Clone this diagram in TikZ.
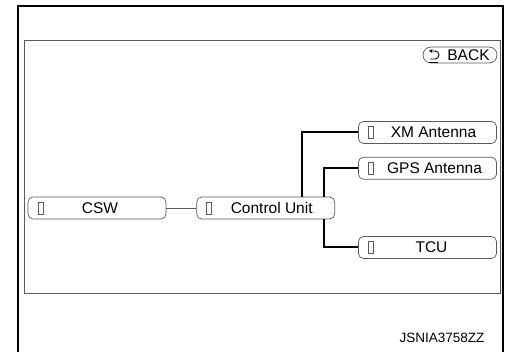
\documentclass[tikz,border=0pt]{standalone}
\usepackage{fontspec}
\setmainfont{Liberation Sans}
\usetikzlibrary{positioning, arrows.meta}
\definecolor{grisborde}{RGB}{90,90,90}

\begin{document}
\begin{tikzpicture}[
			x=1pt, y=-1pt,
			node distance = 30pt and 30pt,
			menubox/.style = {
				rectangle,
				rounded corners=5pt,
				draw=grisborde,
				line width=0.7pt,
				fill=white,
				minimum width=138pt,
				minimum height=22pt,
				inner sep=0pt,
				font=\fontsize{15.5}{17}\selectfont,
				path picture={
					\draw[line width=0.7pt, sharp corners]
					([xshift=10pt,yshift=-6pt]path picture bounding box.west) rectangle
					([xshift=15pt,yshift=6pt]path picture bounding box.west);
				}
			},
			enlace/.style = {line width=2pt, black}
			]
			
			\useasboundingbox (0,0) rectangle (506,352);
			
			% marcos
			\draw[line width=2.2pt] (18,352) -- (18,6) -- (503,6) -- (503,352);
			\draw[grisborde, line width=0.7pt] (24,40) rectangle (500,293);
			
			% nodos
			\node[menubox] (csw) at (97,208) {\hspace*{6pt}CSW};
			\node[menubox, right=30pt of csw] (cu) {\hspace*{12pt}Control Unit};
			\node[menubox] (xm) at (427.5,132.5) {\hspace*{12pt}XM Antenna};
			\node[menubox, below=13pt of xm] (gps) {\hspace*{14pt}GPS Antenna};
			\node[menubox] (tcu) at (427.5,247.5) {\hspace*{8pt}TCU};
			
			\node[rectangle, rounded corners=8pt, draw=grisborde, line width=0.7pt,
				minimum width=74pt, minimum height=16pt, inner sep=0pt,
				font=\fontsize{15.5}{17}\selectfont] (back) at (460,55) {\hspace*{17pt}BACK};
			\draw[line width=0.9pt, -{Stealth[length=3.5pt,width=4pt]}]
				(430,59) -- (435,59) arc (90:-90:4) -- (429,51);
			\draw[line width=0.9pt] (429,62) -- (438,62);
			
			\node[font=\fontsize{13.5}{15}\selectfont, anchor=east] (codigo) at (488,338) {JSNIA3758ZZ};
			
			% conexiones
			\draw[grisborde, line width=0.9pt] (csw) -- (cu);
			\draw[enlace] ([xshift=36pt]cu.north) |- (xm.west);
			\draw[enlace] ([xshift=58pt]cu.north) |- (gps.west);
			\draw[enlace] ([xshift=58pt]cu.south) |- (tcu.west);
			
		\end{tikzpicture}
\end{document}
